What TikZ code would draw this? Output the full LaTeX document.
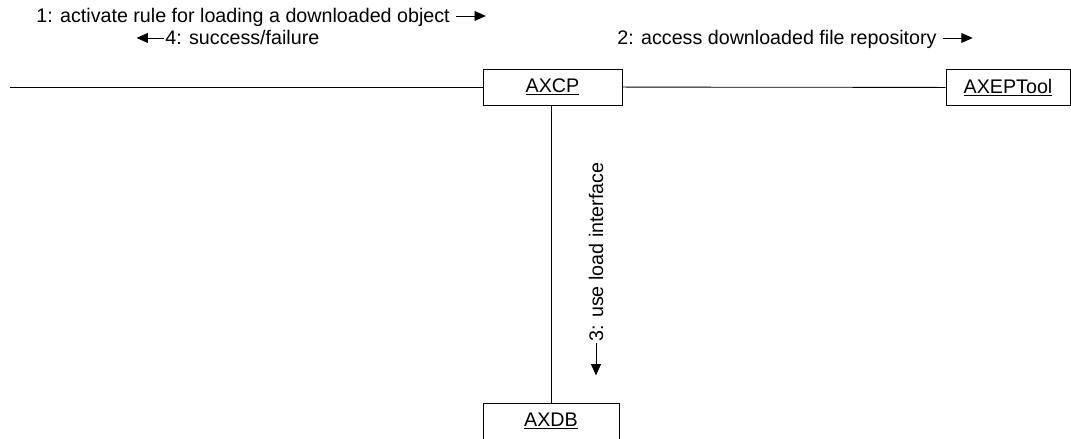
\documentclass[tikz,border=0pt]{standalone}
\usepackage{fontspec}
\setmainfont{Liberation Sans}
\usetikzlibrary{positioning,arrows.meta}

\tikzset{
  obj/.style={draw, minimum height=0.9cm, inner sep=0pt, font=\fontsize{14}{17}\selectfont},
  msg/.style={inner sep=0pt, font=\fontsize{14}{17}\selectfont},
  tip/.style={-{Triangle[length=8pt,width=7pt]}}
}

\begin{document}
\begin{tikzpicture}[x=0.025cm, y=-0.025cm, line width=0.6pt]
    \useasboundingbox (0,0) rectangle (1071,439);

    % Objects
    \node[obj, minimum width=3.475cm] (axcp) at (552.5,87) {\underline{AXCP}};
    \node[obj, minimum width=3.1cm] (axeptool) at (1008,87.5) {\underline{AXEPTool}};
    \node[obj, minimum width=3.4cm] (axdb) at (551,421) {\underline{AXDB}};
    \coordinate (env) at (10,87);

    % Links
    \draw (env) -- (axcp);
    \draw (axcp) -- (axeptool);
    \draw (axdb.north |- axcp.south) -- (axdb.north);

    % Messages
    \node[msg, anchor=base west] (m1) at (36,23) {1: activate rule for loading a downloaded object};
    \path ([xshift=4pt,yshift=5pt]m1.base east) coordinate (m1a) ++(30,0) coordinate (m1b);
    \draw[tip] (m1a) -- (m1b);

    \node[msg, anchor=base west] (m4) at (165,45) {4: success/failure};
    \path ([xshift=-1pt,yshift=5pt]m4.base west) coordinate (m4a) ++(-27,0) coordinate (m4b);
    \draw[tip] (m4a) -- (m4b);

    \node[msg, anchor=base west] (m2) at (617,45) {2: access downloaded file repository};
    \path ([xshift=4pt,yshift=5pt]m2.base east) coordinate (m2a) ++(30,0) coordinate (m2b);
    \draw[tip] (m2a) -- (m2b);

    \node[msg, anchor=base west, rotate=90] (m3) at (603,342) {3: use load interface};
    \path ([xshift=-5pt,yshift=-1pt]m3.base west) coordinate (m3a) ++(0,32) coordinate (m3b);
    \draw[tip] (m3a) -- (m3b);
\end{tikzpicture}
\end{document}
